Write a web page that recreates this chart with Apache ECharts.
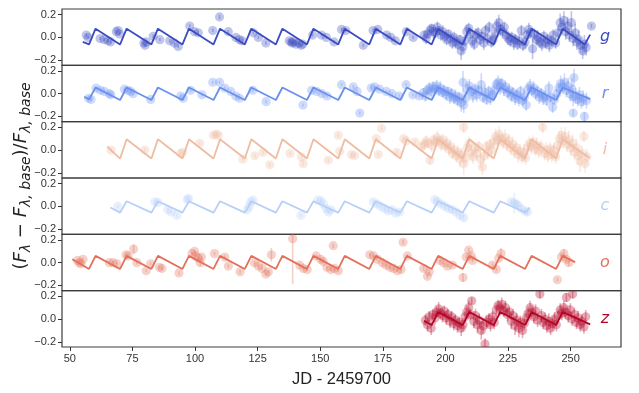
<!DOCTYPE html>
<html><head><meta charset="utf-8">
<script src="https://cdn.jsdelivr.net/npm/echarts@6/dist/echarts.min.js"></script>
<style>html,body{margin:0;padding:0;background:#fff}#c{width:639px;height:393px}</style>
</head><body><div id="c"></div>
<script>
const bandNames = ['g','r','i','c','o','z'];
const bandColors = ['#3b4cc0','#6a8ff0','#eebca3','#b7cff9','#e2705a','#b40426'];
const xTicks = [50,75,100,125,150,175,200,225,250];
const yTicks = [-0.2,0,0.2];

// observations: [JD-2459700, relative flux, error]
const gPts = [[56.6,0.02,0.015],[57.3,0.0,0.015],[62.1,-0.01,0.015],[63.8,-0.02,0.015],[65.3,-0.03,0.015],[66.3,-0.04,0.015],[68.6,0.05,0.015],[69.3,0.06,0.015],[69.9,0.03,0.015],[79.6,-0.05,0.015],[80.1,-0.07,0.015],[80.5,-0.04,0.015],[83.3,0.01,0.015],[86.0,-0.02,0.015],[89.9,-0.03,0.015],[91.8,-0.05,0.015],[93.3,-0.08,0.015],[97.9,0.10,0.015],[99.8,0.05,0.015],[101.3,0.04,0.015],[107.1,0.06,0.015],[109.8,0.18,0.02],[113.3,0.05,0.015],[116.3,0.0,0.015],[117.8,-0.02,0.015],[118.8,-0.03,0.015],[123.3,0.04,0.015],[125.3,0.0,0.015],[128.3,-0.05,0.015],[137.6,-0.03,0.015],[138.4,-0.04,0.015],[138.9,-0.05,0.015],[139.4,-0.04,0.015],[140.4,-0.06,0.015],[141.4,-0.05,0.015],[142.4,-0.07,0.015],[143.0,-0.06,0.015],[147.0,0.02,0.015],[150.5,0.02,0.015],[152.5,0.0,0.015],[155.5,-0.04,0.015],[158.5,0.07,0.015],[160.2,0.06,0.015],[167.2,-0.07,0.015],[171.1,0.06,0.015],[173.0,0.07,0.015],[176.5,0.02,0.015],[178.2,0.0,0.015],[180.0,-0.03,0.015],[184.4,0.05,0.015],[187.1,0.0,0.015],
[191.5,0.02,0.04],[192.3,-0.01,0.05],[193.0,0.03,0.04],[193.8,0.06,0.05],[194.5,0.08,0.04],[195.2,0.05,0.06],[196.0,0.04,0.05],[196.8,0.09,0.05],[197.5,0.06,0.04],[198.2,0.02,0.05],[199.0,0.05,0.06],[199.8,0.01,0.05],[200.5,-0.02,0.05],[201.2,0.03,0.04],[202.0,-0.01,0.06],[202.8,-0.05,0.05],[203.5,0.0,0.05],[204.2,-0.04,0.06],[205.0,-0.06,0.05],[205.8,-0.02,0.04],[206.3,-0.12,0.08],[207.0,-0.08,0.06],[207.8,-0.03,0.05],[208.5,0.05,0.06],[209.3,0.08,0.05],[210.0,0.03,0.06],[210.8,-0.03,0.05],[211.5,-0.06,0.05],[212.2,0.02,0.06],[213.0,0.04,0.05],[213.8,-0.02,0.05],[214.5,0.01,0.04],[215.3,-0.05,0.06],[216.0,0.06,0.05],[216.8,-0.01,0.05],[217.5,0.09,0.05],[218.3,-0.04,0.05],[219.0,-0.02,0.06],[219.8,0.03,0.06],[220.5,0.1,0.06],[221.3,0.13,0.07],[222.0,0.07,0.05],[222.8,0.05,0.06],[223.5,0.09,0.05],[224.3,0.02,0.05],[225.0,-0.01,0.06],[225.8,-0.03,0.05],[226.5,0.0,0.05],[227.3,-0.05,0.06],[228.0,-0.02,0.05],[228.8,-0.06,0.05],[229.5,-0.03,0.06],[230.3,0.06,0.05],[231.0,-0.07,0.05],[231.8,-0.04,0.06],[232.5,0.02,0.05],[233.3,0.07,0.06],[234.0,0.04,0.05],[234.8,-0.1,0.09],[235.5,0.03,0.05],[236.3,-0.02,0.05],[237.0,0.0,0.06],[237.8,-0.04,0.05],[238.5,-0.06,0.06],[239.3,0.01,0.05],[240.0,-0.05,0.05],[240.8,-0.02,0.05],[241.5,-0.07,0.06],[242.3,-0.03,0.05],[243.0,0.02,0.05],[244.0,-0.05,0.05],[245.0,0.04,0.06],[245.8,0.13,0.08],[246.5,0.09,0.06],[247.3,0.15,0.08],[248.0,0.05,0.07],[248.8,0.1,0.08],[249.5,0.02,0.06],[250.3,0.13,0.1],[251.0,-0.01,0.07],[251.8,0.04,0.08],[252.5,-0.04,0.07],[253.3,-0.02,0.08],[254.0,-0.07,0.07],[254.8,-0.12,0.07],[255.5,-0.06,0.08],[256.2,-0.09,0.07],[258.3,0.1,0.02]];

const rPts = [[57.5,-0.04,0.015],[58.5,-0.05,0.015],[60.5,0.05,0.015],[62.2,0.03,0.015],[63.8,0.02,0.015],[65.8,0.0,0.015],[66.4,-0.01,0.015],[71.8,0.04,0.015],[73.3,0.03,0.015],[74.3,0.02,0.015],[75.3,0.0,0.015],[82.3,-0.05,0.015],[94.3,-0.02,0.015],[95.3,-0.04,0.015],[98.3,0.03,0.015],[102.8,-0.01,0.015],[107.1,0.1,0.015],[109.8,0.1,0.015],[111.9,0.05,0.015],[114.3,0.02,0.015],[116.3,-0.02,0.015],[117.8,-0.04,0.015],[123.1,0.03,0.015],[128.4,-0.07,0.015],[143.1,-0.1,0.015],[146.6,0.03,0.015],[148.6,0.02,0.015],[150.7,0.0,0.015],[152.7,-0.02,0.015],[158.5,0.08,0.015],[163.2,0.06,0.015],[164.7,0.02,0.015],[165.8,-0.17,0.015],[170.4,0.05,0.015],[171.7,0.06,0.015],[173.7,0.04,0.015],[176.4,0.02,0.015],[178.7,0.0,0.015],[181.5,-0.02,0.015],[184.3,0.08,0.015],[187.0,-0.01,0.015],[189.6,-0.02,0.015],
[191.2,0.01,0.04],[192.0,-0.02,0.05],[192.8,0.03,0.04],[193.5,0.05,0.05],[194.3,0.02,0.06],[195.0,0.06,0.05],[195.8,0.04,0.04],[196.5,0.07,0.05],[197.3,0.03,0.05],[198.0,0.05,0.06],[198.8,0.01,0.04],[199.5,0.03,0.05],[200.3,-0.01,0.05],[201.0,0.02,0.04],[201.8,-0.03,0.06],[202.5,0.0,0.05],[203.3,-0.04,0.05],[204.0,-0.02,0.06],[204.8,-0.06,0.05],[205.5,-0.03,0.05],[206.3,-0.08,0.08],[207.0,0.1,0.1],[207.3,-0.1,0.07],[208.0,-0.04,0.06],[208.8,0.04,0.05],[209.5,0.07,0.06],[210.3,0.02,0.05],[211.0,-0.02,0.06],[211.8,0.04,0.05],[212.5,-0.01,0.06],[213.3,0.03,0.05],[214.3,0.08,0.1],[215.0,-0.03,0.05],[215.8,0.01,0.06],[216.5,-0.05,0.05],[217.3,0.02,0.05],[218.0,-0.04,0.06],[218.8,-0.01,0.05],[219.5,0.03,0.06],[220.3,0.08,0.05],[221.0,0.1,0.06],[221.8,0.06,0.07],[222.5,0.09,0.05],[223.3,0.04,0.06],[224.0,0.06,0.05],[224.8,0.01,0.05],[225.5,0.03,0.06],[226.3,-0.02,0.05],[227.0,0.01,0.05],[227.8,-0.04,0.06],[228.5,-0.01,0.05],[229.3,-0.05,0.06],[230.0,0.02,0.05],[230.8,-0.06,0.05],[231.5,-0.03,0.06],[232.3,-0.1,0.05],[233.0,0.04,0.05],[233.8,0.07,0.06],[234.5,0.03,0.05],[235.3,0.05,0.06],[236.0,0.0,0.05],[236.8,0.02,0.05],[237.5,-0.03,0.06],[238.3,0.0,0.05],[239.0,-0.04,0.06],[239.8,-0.02,0.05],[240.5,-0.06,0.05],[241.3,0.05,0.06],[242.0,-0.03,0.05],[242.8,-0.12,0.05],[243.5,-0.05,0.05],[244.5,0.0,0.06],[245.3,0.05,0.05],[246.0,0.09,0.07],[246.8,0.06,0.06],[247.5,0.1,0.08],[248.3,0.03,0.06],[249.0,0.07,0.07],[249.8,0.0,0.06],[250.5,0.04,0.1],[251.0,-0.03,0.08],[251.3,0.14,0.08],[251.0,-0.17,0.03],[252.0,-0.02,0.07],[252.8,-0.05,0.06],[253.5,-0.01,0.07],[254.3,-0.07,0.06],[255.0,-0.04,0.07],[255.5,-0.2,0.04],[256.3,-0.06,0.07]];

const iPts = [[66.5,0.0,0.015],[80.0,0.0,0.015],[94.3,-0.03,0.015],[95.1,-0.02,0.015],[101.9,0.06,0.015],[107.3,0.13,0.015],[108.5,0.14,0.015],[109.3,0.13,0.015],[119.1,-0.08,0.015],[123.9,-0.05,0.015],[127.2,-0.02,0.015],[129.9,-0.13,0.02],[137.9,-0.03,0.015],[142.5,-0.06,0.015],[143.2,-0.12,0.02],[153.2,-0.09,0.015],[157.2,0.13,0.015],[157.8,-0.01,0.015],[162.5,-0.04,0.015],[163.7,-0.05,0.015],[172.4,0.1,0.015],[173.2,-0.04,0.015],[174.5,0.19,0.015],[180.5,-0.02,0.015],[183.3,0.1,0.015],[184.3,0.08,0.015],[187.8,0.07,0.015],
[190.5,0.03,0.04],[191.5,0.05,0.05],[192.3,0.08,0.05],[193.0,0.06,0.04],[193.8,-0.09,0.04],[194.5,0.04,0.06],[195.3,0.09,0.05],[196.0,0.07,0.05],[196.8,0.11,0.06],[197.5,0.08,0.05],[198.3,0.05,0.06],[199.0,0.09,0.05],[199.8,0.04,0.05],[200.5,0.06,0.06],[201.3,0.01,0.05],[202.0,0.03,0.06],[202.8,-0.03,0.05],[203.5,0.0,0.06],[204.3,-0.05,0.05],[205.0,-0.02,0.06],[205.8,-0.08,0.07],[206.5,-0.04,0.06],[207.3,0.2,0.05],[207.3,-0.12,0.1],[208.0,-0.07,0.07],[208.8,0.02,0.06],[209.5,0.06,0.06],[210.3,-0.02,0.07],[211.0,-0.06,0.06],[211.8,0.02,0.05],[212.5,-0.03,0.06],[213.3,0.03,0.05],[214.0,-0.08,0.08],[214.8,-0.15,0.07],[215.5,-0.05,0.06],[216.3,0.03,0.05],[217.0,-0.02,0.06],[217.8,0.05,0.05],[218.5,0.0,0.06],[219.3,0.07,0.06],[220.0,0.12,0.07],[220.8,0.09,0.06],[221.5,0.14,0.07],[222.3,0.1,0.06],[223.0,0.07,0.06],[223.8,0.11,0.07],[224.5,0.05,0.06],[225.3,0.08,0.06],[226.0,0.02,0.06],[226.8,0.05,0.07],[227.5,-0.01,0.06],[228.3,0.02,0.06],[229.0,-0.04,0.07],[229.8,-0.01,0.06],[230.5,-0.06,0.06],[231.3,-0.02,0.07],[232.0,-0.07,0.06],[232.8,0.02,0.06],[233.5,0.06,0.06],[234.3,0.03,0.07],[235.0,0.07,0.06],[235.8,0.01,0.06],[236.5,0.04,0.07],[237.3,-0.01,0.06],[238.0,0.03,0.06],[238.8,0.2,0.05],[239.5,-0.03,0.06],[240.3,0.0,0.07],[241.0,-0.05,0.06],[241.8,0.01,0.06],[242.5,-0.04,0.07],[243.3,0.0,0.06],[244.0,-0.06,0.06],[244.8,0.04,0.07],[245.5,0.1,0.07],[246.3,0.13,0.07],[247.0,0.08,0.06],[247.8,0.12,0.08],[248.5,0.05,0.07],[249.3,0.09,0.08],[250.0,0.02,0.07],[250.8,0.06,0.08],[251.5,-0.02,0.07],[252.3,0.02,0.08],[253.0,-0.05,0.08],[253.8,-0.1,0.09],[254.5,-0.03,0.07],[255.3,0.12,0.05],[255.8,-0.12,0.08],[256.5,-0.06,0.07]];

const cPts = [[69.2,0.0,0.015],[84.0,0.04,0.015],[85.2,0.035,0.015],[89.1,-0.03,0.015],[90.6,-0.05,0.015],[92.8,-0.08,0.015],[96.9,0.06,0.015],[97.4,0.07,0.015],[120.9,-0.03,0.015],[121.6,0.0,0.015],[122.3,0.04,0.015],[123.1,0.055,0.015],[142.3,-0.08,0.015],[149.0,0.055,0.015],[150.3,0.05,0.02],[151.3,0.02,0.02],[152.3,-0.02,0.02],[153.3,-0.05,0.02],[154.3,-0.03,0.02],[171.2,0.04,0.02],[172.7,0.02,0.02],[174.2,0.0,0.02],[175.7,-0.02,0.02],[177.2,-0.04,0.02],[178.7,-0.03,0.02],[180.2,-0.06,0.02],[181.7,-0.05,0.02],[195.8,0.06,0.02],[196.8,0.04,0.02],[198.3,0.02,0.02],[199.8,0.0,0.03],[201.3,-0.02,0.02],[202.8,-0.03,0.03],[204.3,-0.05,0.02],[205.8,-0.08,0.03],[207.3,-0.1,0.03],[226.3,0.04,0.02],[227.5,0.03,0.09],[228.2,0.02,0.03],[229.0,0.01,0.02],[230.3,-0.02,0.03],[231.8,-0.04,0.02],[232.8,-0.05,0.03]];

const oPts = [[53.1,0.02,0.015],[53.8,0.0,0.015],[54.5,-0.01,0.015],[55.3,0.03,0.015],[65.8,0.0,0.015],[67.3,0.0,0.015],[68.8,-0.01,0.015],[72.5,0.07,0.015],[73.3,0.06,0.015],[75.5,0.12,0.04],[76.8,0.0,0.015],[80.5,-0.07,0.015],[82.3,-0.01,0.015],[85.8,-0.04,0.015],[86.8,-0.05,0.015],[93.6,-0.09,0.015],[98.8,0.08,0.015],[99.8,0.1,0.015],[100.3,0.06,0.015],[101.3,0.04,0.015],[102.1,0.0,0.03],[102.6,0.05,0.015],[107.8,0.08,0.015],[111.9,0.05,0.015],[113.3,-0.03,0.015],[118.0,-0.08,0.015],[123.8,0.0,0.015],[125.3,-0.03,0.015],[126.8,-0.05,0.015],[128.3,-0.1,0.015],[129.3,-0.08,0.015],[130.5,0.07,0.06],[139.0,0.21,0.4],[141.8,-0.02,0.015],[143.3,-0.05,0.015],[144.8,-0.06,0.015],[148.4,0.06,0.015],[150.2,0.03,0.015],[151.2,0.01,0.015],[152.7,-0.04,0.015],[154.2,-0.06,0.015],[155.2,0.15,0.02],[155.7,-0.05,0.015],[157.2,-0.07,0.015],[169.8,0.07,0.015],[171.3,0.06,0.015],[172.8,0.03,0.015],[174.8,0.0,0.015],[176.3,-0.02,0.015],[177.8,-0.04,0.015],[179.3,-0.05,0.015],[180.8,-0.07,0.015],[182.3,-0.06,0.015],[183.1,0.18,0.02],[184.8,0.06,0.015],[191.3,-0.05,0.02],[192.8,-0.12,0.02],[193.5,-0.08,0.02],[197.8,0.02,0.015],[199.3,0.0,0.015],[200.8,-0.03,0.015],[202.8,-0.02,0.015],[207.0,-0.13,0.04],[208.3,0.05,0.015],[209.3,0.11,0.02],[210.3,0.06,0.015],[210.8,0.02,0.015],[218.8,-0.02,0.015],[220.3,-0.06,0.015],[221.3,0.04,0.015],[222.2,0.08,0.05],[244.7,-0.15,0.015],[246.3,0.05,0.02],[247.3,0.08,0.04],[248.3,0.03,0.02],[249.3,0.0,0.03]];

const zPts = [[192.0,-0.01,0.05],[192.8,-0.05,0.06],[193.5,0.02,0.05],[194.3,-0.08,0.06],[195.0,0.04,0.05],[195.8,0.01,0.06],[196.5,0.06,0.05],[197.3,0.09,0.06],[198.0,0.05,0.05],[198.8,0.03,0.06],[199.5,0.07,0.05],[200.3,0.01,0.06],[201.0,0.04,0.05],[201.8,-0.02,0.06],[202.5,0.02,0.05],[203.3,-0.04,0.06],[204.0,-0.01,0.05],[204.8,-0.06,0.06],[205.5,-0.03,0.05],[206.3,-0.08,0.07],[207.0,-0.05,0.06],[207.8,0.02,0.05],[208.5,0.06,0.06],[209.3,0.1,0.06],[210.0,0.04,0.05],[210.5,0.16,0.03],[211.3,-0.02,0.06],[212.0,0.03,0.06],[212.8,-0.05,0.07],[213.5,-0.01,0.06],[214.3,-0.1,0.08],[215.0,-0.06,0.07],[215.8,-0.22,0.05],[216.5,-0.03,0.06],[217.3,0.0,0.05],[218.0,-0.05,0.06],[218.8,0.02,0.05],[219.5,-0.03,0.06],[220.3,0.08,0.06],[221.0,0.12,0.05],[221.8,0.09,0.06],[222.5,0.13,0.06],[223.3,0.07,0.05],[224.0,0.1,0.06],[224.8,0.04,0.06],[225.5,0.06,0.05],[226.3,-0.02,0.07],[227.0,0.03,0.06],[227.8,-0.06,0.08],[228.5,-0.01,0.06],[229.3,-0.08,0.08],[230.0,-0.03,0.06],[230.8,-0.1,0.07],[231.5,-0.04,0.06],[232.3,0.01,0.06],[233.0,0.05,0.06],[233.8,0.1,0.06],[234.5,0.06,0.06],[235.3,0.02,0.06],[236.0,0.07,0.06],[236.8,-0.01,0.06],[237.7,0.22,0.04],[238.3,0.03,0.06],[239.0,-0.03,0.06],[239.8,0.0,0.06],[240.5,-0.06,0.06],[241.3,-0.02,0.07],[242.0,-0.08,0.06],[242.8,-0.04,0.06],[243.5,0.0,0.06],[244.3,-0.05,0.06],[245.0,0.03,0.06],[245.8,0.08,0.06],[246.5,0.05,0.06],[247.3,0.1,0.06],[248.0,0.06,0.06],[248.3,0.19,0.04],[249.0,0.03,0.06],[249.8,0.08,0.06],[250.5,0.0,0.06],[250.8,0.22,0.04],[251.5,0.04,0.06],[252.3,-0.03,0.06],[253.0,0.01,0.06],[253.8,-0.05,0.06],[254.5,-0.02,0.06],[255.3,-0.07,0.06],[256.0,0.02,0.06]];

// fitted sawtooth models: [JD-2459700, relative flux]
const gModel = [[55.2,-0.04],[57.7,-0.062],[60.3,0.077],[70.1,-0.062],[72.7,0.077],[82.6,-0.062],[85.2,0.077],[95.0,-0.062],[97.6,0.077],[107.4,-0.062],[110.0,0.077],[119.9,-0.062],[122.5,0.077],[132.3,-0.062],[134.9,0.077],[144.7,-0.062],[147.3,0.077],[157.2,-0.062],[159.8,0.077],[169.6,-0.062],[172.2,0.077],[182.0,-0.062],[184.6,0.077],[194.5,-0.062],[197.1,0.077],[206.9,-0.062],[209.5,0.077],[219.3,-0.062],[221.9,0.077],[231.8,-0.062],[234.4,0.077],[244.2,-0.062],[246.8,0.077],[255.6,-0.062],[257.8,0.024]];
const rModel = [[55.8,-0.026],[57.7,-0.05],[60.3,0.055],[70.1,-0.055],[72.7,0.055],[82.6,-0.055],[85.2,0.055],[95.0,-0.055],[97.6,0.055],[107.4,-0.055],[110.0,0.055],[119.9,-0.055],[122.5,0.055],[132.3,-0.055],[134.9,0.055],[144.7,-0.055],[147.3,0.055],[157.2,-0.055],[159.8,0.055],[169.6,-0.055],[172.2,0.055],[182.0,-0.055],[184.6,0.055],[194.5,-0.055],[197.1,0.055],[206.9,-0.055],[209.5,0.055],[219.3,-0.055],[221.9,0.055],[231.8,-0.055],[234.4,0.055],[244.2,-0.055],[246.8,0.055],[257.8,-0.047]];
const iModel = [[65.0,0.03],[70.1,-0.075],[72.7,0.095],[82.6,-0.075],[85.2,0.095],[95.0,-0.075],[97.6,0.095],[107.4,-0.075],[110.0,0.095],[119.9,-0.075],[122.5,0.095],[132.3,-0.075],[134.9,0.095],[144.7,-0.075],[147.3,0.095],[157.2,-0.075],[159.8,0.095],[169.6,-0.075],[172.2,0.095],[182.0,-0.075],[184.6,0.095],[194.5,-0.075],[197.1,0.095],[206.9,-0.075],[209.5,0.095],[219.3,-0.075],[221.9,0.095],[231.8,-0.075],[234.4,0.095],[244.2,-0.075],[246.8,0.095],[257.6,-0.07]];
const cModel = [[66.2,-0.01],[70.1,-0.055],[72.7,0.045],[82.6,-0.055],[85.2,0.045],[95.0,-0.055],[97.6,0.045],[107.4,-0.055],[110.0,0.045],[119.9,-0.055],[122.5,0.045],[132.3,-0.055],[134.9,0.045],[144.7,-0.055],[147.3,0.045],[157.2,-0.055],[159.8,0.045],[169.6,-0.055],[172.2,0.045],[182.0,-0.055],[184.6,0.045],[194.5,-0.055],[197.1,0.045],[206.9,-0.055],[209.5,0.045],[219.3,-0.055],[221.9,0.045],[232.0,-0.055],[233.6,-0.01]];
const oModel = [[51.0,0.03],[57.7,-0.055],[60.3,0.06],[70.1,-0.055],[72.7,0.06],[82.6,-0.055],[85.2,0.06],[95.0,-0.055],[97.6,0.06],[107.4,-0.055],[110.0,0.06],[119.9,-0.055],[122.5,0.06],[132.3,-0.055],[134.9,0.06],[144.7,-0.055],[147.3,0.06],[157.2,-0.055],[159.8,0.06],[169.6,-0.055],[172.2,0.06],[182.0,-0.055],[184.6,0.06],[194.5,-0.055],[197.1,0.06],[206.9,-0.055],[209.5,0.06],[219.3,-0.055],[221.9,0.06],[231.8,-0.055],[234.4,0.06],[244.2,-0.055],[246.8,0.06],[251.8,0.005]];
const zModel = [[191.4,-0.015],[194.5,-0.053],[197.1,0.062],[206.9,-0.053],[209.5,0.062],[219.3,-0.053],[221.9,0.062],[231.8,-0.053],[234.4,0.062],[244.2,-0.053],[246.8,0.062],[257.8,-0.047]];

const allPts = [gPts, rPts, iPts, cPts, oPts, zPts];
const allModels = [gModel, rModel, iModel, cModel, oModel, zModel];

const chart = echarts.init(document.getElementById('c'), null, {renderer: 'canvas'});
const L = 62, W = 559, T0 = 9, H = 56.33;
const tickFont = 'Liberation Sans, Arial, sans-serif';
const grids = [], xAxes = [], yAxes = [], series = [], graphics = [];

function makeRender(color) {
  return function (params, api) {
    const x = api.value(0), y = api.value(1), e = api.value(2);
    const c = api.coord([x, y]);
    const a = api.coord([x, y - e]);
    const b = api.coord([x, y + e]);
    return {
      type: 'group',
      children: [
        {type: 'line', shape: {x1: a[0], y1: a[1], x2: b[0], y2: b[1]}, style: {stroke: color, lineWidth: 1.6, opacity: 0.33}},
        {type: 'circle', shape: {cx: c[0], cy: c[1], r: 4.6}, style: {fill: color, opacity: 0.32}}
      ]
    };
  };
}

bandNames.forEach((b, k) => {
  const color = bandColors[k];
  const last = k === 5;
  grids.push({left: L, top: T0 + k * H, width: W, height: H, show: true, borderColor: '#3c3c3c', borderWidth: 1.2, backgroundColor: 'transparent'});
  xAxes.push({
    type: 'value', gridIndex: k, min: 46.9, max: 270.1, show: last, position: 'bottom',
    axisLine: {show: false, onZero: false}, splitLine: {show: false},
    axisTick: {show: true, inside: false, length: 4, lineStyle: {color: '#333'}, customValues: xTicks},
    axisLabel: {customValues: xTicks, fontSize: 11, color: '#333', margin: 6, fontFamily: tickFont}
  });
  yAxes.push({
    type: 'value', gridIndex: k, min: -0.246, max: 0.25, position: 'left',
    axisLine: {show: false, onZero: false}, splitLine: {show: false},
    axisTick: {show: true, length: 4, lineStyle: {color: '#333'}, customValues: yTicks},
    axisLabel: {customValues: yTicks, fontSize: 11, color: '#333', margin: 6, fontFamily: tickFont,
      formatter: v => (Math.abs(v) < 1e-9 ? '0.0' : (v < 0 ? '\u2212' : '') + Math.abs(v).toFixed(1))}
  });
  series.push({
    type: 'custom', xAxisIndex: k, yAxisIndex: k, clip: true, z: 2, silent: true,
    encode: {x: 0, y: 1}, data: allPts[k], renderItem: makeRender(color)
  });
  series.push({
    type: 'line', xAxisIndex: k, yAxisIndex: k, data: allModels[k], showSymbol: false, clip: true, z: 3, silent: true,
    lineStyle: {color: color, width: 1.8}
  });
  graphics.push({
    type: 'text', x: 605, y: T0 + k * H + H * 0.5, z: 10,
    style: {text: b, fill: color, font: 'italic 16px "DejaVu Sans"', align: 'center', verticalAlign: 'middle'}
  });
});

graphics.push({
  type: 'text', x: 341.5, y: 379,
  style: {text: 'JD - 2459700', fill: '#222', font: '16.5px "Liberation Sans", Arial, sans-serif', align: 'center', verticalAlign: 'middle'}
});
graphics.push({
  type: 'text', x: 21, y: 176, rotation: Math.PI / 2,
  style: {
    text: '{p|(}{i|F}{s|\u03bb}{p| \u2212 }{i|F}{s|\u03bb, base}{p|)/}{i|F}{s|\u03bb, base}',
    align: 'center', verticalAlign: 'middle',
    rich: {
      p: {fontSize: 18, fontFamily: 'DejaVu Sans', fill: '#222', lineHeight: 24},
      i: {fontSize: 18, fontFamily: 'DejaVu Sans', fontStyle: 'italic', fill: '#222', lineHeight: 24},
      s: {fontSize: 14, fontFamily: 'DejaVu Sans', fontStyle: 'italic', fill: '#222', lineHeight: 10, verticalAlign: 'bottom'}
    }
  }
});

chart.setOption({
  animation: false,
  grid: grids, xAxis: xAxes, yAxis: yAxes, series: series, graphic: graphics
});
</script></body></html>
